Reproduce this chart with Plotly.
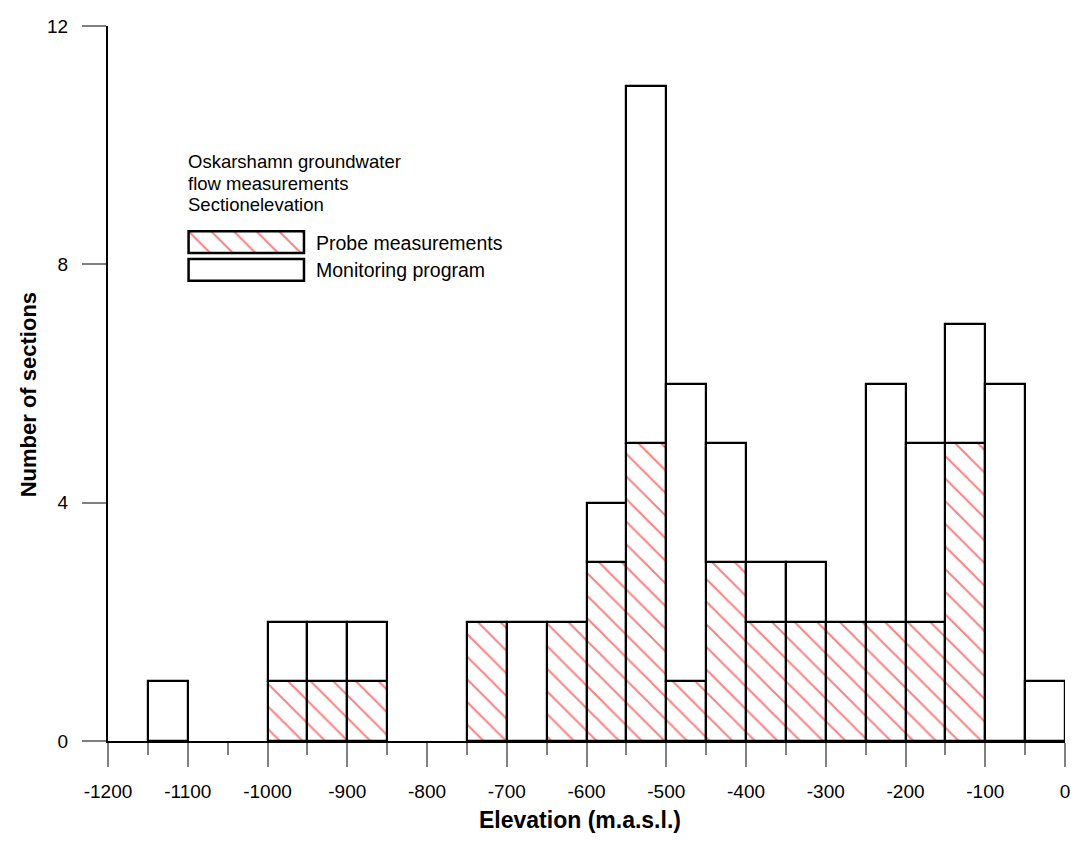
import plotly.graph_objects as go

# Bin centres (elevation, m.a.s.l.), bins 50 m wide
bin_centers = [-1175, -1125, -1075, -1025, -975, -925, -875, -825, -775, -725,
               -675, -625, -575, -525, -475, -425, -375, -325, -275, -225,
               -175, -125, -75, -25]
probe = [0, 0, 0, 0, 1, 1, 1, 0, 0, 2,
         0, 2, 3, 5, 1, 3, 2, 2, 2, 2,
         2, 5, 0, 0]
total = [0, 1, 0, 0, 2, 2, 2, 0, 0, 2,
         2, 2, 4, 11, 6, 5, 3, 3, 2, 6,
         5, 7, 6, 1]
monitoring = [t - p for t, p in zip(total, probe)]
x_ticks = [-1200, -1100, -1000, -900, -800, -700, -600, -500, -400, -300, -200, -100, 0]
y_ticks = [0, 4, 8, 12]
title_lines = ["Oskarshamn groundwater", "flow measurements", "Sectionelevation"]

FONT = "Arial, Liberation Sans, sans-serif"
hatch = dict(shape="\\", fgcolor="#ff0000", bgcolor="white", size=16, solidity=0.12)

fig = go.Figure()
fig.add_trace(go.Bar(
    x=bin_centers, y=[p if p > 0 else None for p in probe], width=50,
    marker=dict(color="white", pattern=hatch, line=dict(color="black", width=2.2)),
    name="Probe measurements", showlegend=False))
fig.add_trace(go.Bar(
    x=bin_centers, y=[m if m > 0 else None for m in monitoring], width=50,
    base=probe,
    marker=dict(color="white", line=dict(color="black", width=2.2)),
    name="Monitoring program", showlegend=False))

# page pixel -> paper coordinates (plot area spans page x 108..1070, y 20..741)
W, H = 962, 721
def px_x(p):
    return (p - 108) / W
def px_y(p):
    return (741 - p) / H

box_x = [px_x(189), px_x(305)]
box1_y = [px_y(249), px_y(227)]
box2_y = [px_y(277), px_y(255)]

fig.add_trace(go.Bar(x=[0], y=[1], width=1, xaxis="x2", yaxis="y2",
                     marker=dict(color="white", pattern=hatch, line=dict(width=0)),
                     showlegend=False, hoverinfo="skip"))
fig.add_trace(go.Bar(x=[0], y=[1], width=1, xaxis="x3", yaxis="y3",
                     marker=dict(color="white", line=dict(width=0)),
                     showlegend=False, hoverinfo="skip"))

hidden = dict(visible=False, fixedrange=True)
fig.update_layout(
    xaxis2=dict(domain=box_x, range=[-0.5, 0.5], anchor="y2", **hidden),
    yaxis2=dict(domain=box1_y, range=[0, 1], anchor="x2", **hidden),
    xaxis3=dict(domain=box_x, range=[-0.5, 0.5], anchor="y3", **hidden),
    yaxis3=dict(domain=box2_y, range=[0, 1], anchor="x3", **hidden),
)

for by in (box1_y, box2_y):
    fig.add_shape(type="rect", xref="paper", yref="paper",
                  x0=box_x[0], x1=box_x[1], y0=by[0], y1=by[1],
                  line=dict(color="black", width=2.5), fillcolor="rgba(0,0,0,0)")

annotations = [
    dict(text="<b>Elevation (m.a.s.l.)</b>", xref="paper", yref="paper",
         x=px_x(582), y=px_y(821), xanchor="center", yanchor="middle",
         showarrow=False, font=dict(size=23)),
    dict(text="<b>Number of sections</b>", xref="paper", yref="paper",
         x=px_x(28), y=px_y(392), xanchor="center", yanchor="middle",
         textangle=-90, showarrow=False, font=dict(size=22)),
    dict(text="Probe measurements", xref="paper", yref="paper",
         x=px_x(315), y=px_y(239), xanchor="left", yanchor="middle",
         showarrow=False, font=dict(size=19.5)),
    dict(text="Monitoring program", xref="paper", yref="paper",
         x=px_x(315), y=px_y(266), xanchor="left", yanchor="middle",
         showarrow=False, font=dict(size=19.5)),
]
for i, line in enumerate(title_lines):
    annotations.append(dict(text=line, xref="paper", yref="paper",
                            x=px_x(186), y=px_y(157 + 21.5 * i),
                            xanchor="left", yanchor="middle", showarrow=False,
                            font=dict(size=18.5)))

fig.update_layout(
    width=1070, height=833,
    margin=dict(l=100, r=8, t=12, b=100),
    paper_bgcolor="white", plot_bgcolor="white",
    barmode="overlay", bargap=0,
    font=dict(family=FONT, size=18, color="black"),
    xaxis=dict(range=[-1200, 0], tickvals=x_ticks, ticktext=[str(v) for v in x_ticks],
               tickfont=dict(size=19),
               ticks="outside", ticklen=24, tickwidth=1.5, tickcolor="#808080",
               minor=dict(dtick=50, tick0=-1150, ticks="outside", ticklen=12,
                          tickwidth=1.5, tickcolor="#808080", showgrid=False),
               showline=True, linecolor="black", linewidth=2,
               showgrid=False, zeroline=False, ticklabelstandoff=8, fixedrange=True),
    yaxis=dict(range=[0, 12], tickvals=y_ticks, ticktext=[str(v) for v in y_ticks],
               tickfont=dict(size=19),
               ticks="outside", ticklen=24, tickwidth=1.5, tickcolor="#808080",
               showline=True, linecolor="black", linewidth=2,
               showgrid=False, zeroline=False, ticklabelstandoff=10, fixedrange=True),
    annotations=annotations,
)

fig.write_html("out.html")
